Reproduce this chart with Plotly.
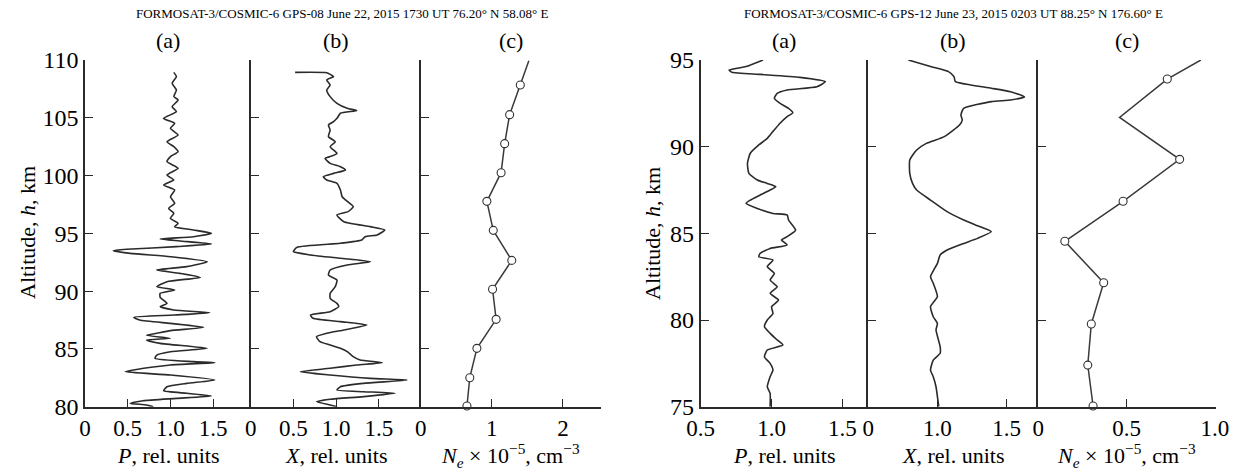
import plotly.graph_objects as go

W, H = 1233, 476

# ---------------- Event 1: GPS-08, June 22, 2015 ----------------
p1_alt = [108.93, 108.56, 107.98, 107.40, 106.83, 106.54, 105.96, 105.53, 104.95, 104.52,
          104.09, 103.51, 102.92, 102.50, 102.07, 101.64, 101.20, 100.63, 100.05, 99.62,
          99.18, 98.75, 98.17, 97.60, 97.16, 96.73, 96.30, 95.87, 95.58, 95.29,
          95.00, 94.71, 94.51, 94.34, 94.08, 93.85, 93.62, 93.50, 93.27, 92.98,
          92.55, 92.12, 91.83, 91.54, 91.19, 90.82, 90.39, 90.10, 89.81, 89.46,
          88.94, 88.66, 88.37, 88.14, 87.93, 87.73, 87.50, 87.21, 86.87, 86.58,
          86.35, 86.18, 85.92, 85.77, 85.48, 85.05, 84.76, 84.47, 84.18, 83.90,
          83.81, 83.61, 83.18, 83.03, 82.74, 82.31, 82.02, 81.73, 81.39, 81.16,
          80.93, 80.72, 80.52, 80.29, 80.15, 80.00]
p1_val = [1.04, 1.07, 1.02, 1.07, 1.04, 1.09, 1.02, 1.07, 0.92, 1.05,
          1.00, 1.09, 0.96, 1.04, 1.09, 1.00, 0.96, 1.09, 0.96, 1.04,
          0.92, 1.05, 1.00, 1.05, 0.98, 1.04, 1.00, 1.09, 1.05, 1.27,
          1.48, 1.27, 0.88, 1.11, 1.48, 1.07, 0.49, 0.33, 0.53, 1.00,
          1.43, 1.19, 0.84, 1.11, 1.35, 0.96, 0.84, 1.05, 0.88, 0.88,
          0.96, 0.88, 1.04, 1.46, 1.04, 0.57, 0.64, 1.00, 1.39, 1.00,
          0.84, 0.72, 1.00, 0.72, 0.88, 1.43, 1.00, 0.84, 0.82, 1.27,
          1.52, 1.00, 0.57, 0.47, 1.00, 1.52, 1.19, 0.96, 0.92, 1.19,
          1.48, 1.07, 0.68, 0.53, 0.72, 0.80]

x1_alt = [108.93, 108.90, 108.76, 108.56, 108.27, 107.84, 107.40, 106.83, 106.25, 105.82,
          105.62, 105.39, 104.95, 104.66, 104.38, 103.94, 103.37, 102.92, 102.50, 101.92,
          101.64, 101.49, 101.06, 100.77, 100.48, 100.19, 99.90, 99.62, 99.33, 98.75,
          98.17, 97.89, 97.31, 96.88, 96.59, 96.01, 95.58, 95.29, 94.86, 94.71,
          94.42, 94.14, 93.79, 93.42, 93.13, 92.84, 92.55, 92.26, 91.83, 91.40,
          90.96, 90.39, 89.81, 89.38, 88.94, 88.66, 88.22, 87.93, 87.65, 87.36,
          87.07, 86.64, 86.35, 86.06, 85.63, 85.34, 85.05, 84.76, 84.33, 84.04,
          83.81, 83.61, 83.32, 83.03, 82.74, 82.45, 82.31, 82.02, 81.73, 81.44,
          81.30, 81.16, 80.87, 80.64, 80.44, 80.15, 80.00]
x1_val = [0.52, 0.89, 0.93, 0.97, 0.89, 0.93, 0.89, 0.93, 1.01, 1.13,
          1.24, 1.05, 1.01, 0.97, 0.91, 0.93, 0.91, 0.99, 0.93, 1.01,
          0.93, 0.87, 0.93, 1.05, 1.11, 0.97, 0.85, 0.89, 1.01, 1.05,
          1.07, 1.11, 1.20, 1.14, 1.01, 1.09, 1.40, 1.57, 1.48, 1.34,
          1.30, 1.05, 0.54, 0.50, 0.70, 1.05, 1.40, 1.13, 0.93, 0.91,
          1.01, 0.99, 0.93, 0.93, 1.01, 1.03, 0.93, 0.70, 0.73, 1.05,
          1.36, 1.09, 0.89, 0.77, 0.81, 0.93, 1.05, 1.13, 1.20, 1.28,
          1.54, 1.24, 0.93, 0.58, 0.93, 1.40, 1.83, 1.32, 1.05, 1.01,
          1.32, 1.69, 1.32, 0.93, 0.77, 0.93, 1.01]

ne1_line_alt = [109.94, 107.84, 105.27, 102.76, 100.25, 97.77, 95.26, 92.66, 90.16, 87.56, 85.05, 82.51, 80.06]
ne1_line_val = [1.52, 1.40, 1.25, 1.18, 1.13, 0.93, 1.02, 1.28, 1.01, 1.06, 0.79, 0.69, 0.65]
ne1_pt_alt = [107.84, 105.27, 102.76, 100.25, 97.77, 95.26, 92.66, 90.16, 87.56, 85.05, 82.51, 80.06]
ne1_pt_val = [1.40, 1.25, 1.18, 1.13, 0.93, 1.02, 1.28, 1.01, 1.06, 0.79, 0.69, 0.65]

# ---------------- Event 2: GPS-12, June 23, 2015 ----------------
p2_alt = [95.00, 94.62, 94.42, 94.29, 94.17, 94.00, 93.75, 93.46, 93.27, 93.08,
          92.79, 92.50, 92.21, 91.96, 91.73, 91.35, 90.87, 90.48, 90.10, 89.62,
          89.04, 88.46, 88.08, 87.88, 87.69, 87.50, 87.21, 86.92, 86.73, 86.44,
          86.15, 86.06, 85.77, 85.19, 84.81, 84.62, 84.33, 84.13, 83.85, 83.65,
          83.46, 83.08, 82.69, 82.31, 81.92, 81.54, 81.15, 80.77, 80.38, 80.00,
          79.62, 79.23, 78.85, 78.56, 78.27, 77.88, 77.50, 77.12, 76.73, 76.15,
          75.77, 75.00]
p2_val = [0.94, 0.82, 0.70, 0.72, 0.92, 1.20, 1.38, 1.32, 1.11, 1.04,
          1.02, 1.06, 1.12, 1.15, 1.11, 1.06, 1.01, 0.97, 0.91, 0.85,
          0.83, 0.84, 0.90, 0.97, 1.03, 0.99, 0.92, 0.85, 0.82, 0.90,
          1.01, 1.11, 1.12, 1.17, 1.11, 1.07, 1.11, 0.99, 0.92, 0.91,
          1.01, 0.97, 1.02, 0.99, 1.04, 0.99, 1.05, 1.00, 1.01, 0.97,
          0.95, 0.99, 1.04, 1.08, 0.97, 0.95, 0.99, 1.01, 0.99, 0.97,
          0.99, 0.99]

x2_alt = [95.00, 94.62, 94.33, 94.04, 93.75, 93.56, 93.37, 93.17, 92.87, 92.69,
          92.60, 92.21, 91.83, 91.54, 91.25, 90.58, 90.19, 89.81, 89.23, 88.46,
          87.88, 87.50, 86.92, 86.25, 85.77, 85.38, 85.10, 84.71, 84.42, 84.04,
          83.75, 83.27, 82.50, 82.12, 81.35, 80.77, 80.19, 79.81, 79.42, 78.46,
          78.08, 77.69, 77.12, 76.73, 76.15, 75.58, 75.00]
x2_val = [0.79, 0.95, 1.08, 1.12, 1.13, 1.24, 1.39, 1.53, 1.63, 1.53,
          1.39, 1.19, 1.17, 1.18, 1.16, 1.05, 0.92, 0.85, 0.80, 0.80,
          0.82, 0.85, 0.95, 1.07, 1.19, 1.31, 1.39, 1.29, 1.19, 1.07,
          1.02, 1.00, 0.95, 0.97, 1.00, 0.95, 0.97, 1.00, 0.99, 1.02,
          1.02, 0.97, 0.95, 0.97, 0.99, 1.00, 1.01]

ne2_line_alt = [95.00, 93.90, 91.69, 89.27, 86.85, 84.54, 82.15, 79.77, 77.40, 75.04]
ne2_line_val = [0.92, 0.73, 0.46, 0.80, 0.48, 0.15, 0.37, 0.30, 0.28, 0.31]
ne2_pt_alt = [93.90, 89.27, 86.85, 84.54, 82.15, 79.77, 77.40, 75.04]
ne2_pt_val = [0.73, 0.80, 0.48, 0.15, 0.37, 0.30, 0.28, 0.31]

titles = ["FORMOSAT-3/COSMIC-6 GPS-08 June 22, 2015 1730 UT 76.20° N 58.08° E",
          "FORMOSAT-3/COSMIC-6 GPS-12 June 23, 2015 0203 UT 88.25° N 176.60° E"]
panel_letters = ["(a)", "(b)", "(c)"]
xtitles = ["<i>P</i>, rel. units", "<i>X</i>, rel. units",
           "<i>N<sub>e</sub></i> × 10<sup>−5</sup>, cm<sup>−3</sup>"]
ytitle = "Altitude, <i>h</i>, km"

# ---------------- layout geometry (pixels) ----------------
FONT = "Liberation Serif, Tinos, Times New Roman, serif"
INK = "#2b2b2b"
y_top, y_bot = 60, 406.7
panels = [
    (85, 250.7, [0, 1.94], [0, 0.5, 1.0, 1.5], ["0", "0.5", "1.0", "1.5"], [80, 110], list(range(80, 111, 5))),
    (250.7, 420.7, [0, 1.99], [0, 0.5, 1.0, 1.5], ["0", "0.5", "1.0", "1.5"], [80, 110], list(range(80, 111, 5))),
    (420.7, 600.7, [0, 2.53], [0, 1, 2], ["0", "1", "2"], [80, 110], list(range(80, 111, 5))),
    (700.7, 868.3, [0.5, 1.683], [0.5, 1.0, 1.5], ["0.5", "1.0", "1.5"], [75, 95], list(range(75, 96, 5))),
    (868.3, 1038.3, [0.5, 1.73], [0.5, 1.0, 1.5], ["0", "1.0", "1.5"], [75, 95], list(range(75, 96, 5))),
    (1038.3, 1215.5, [0, 1.003], [0, 0.5, 1.0], ["0", "0.5", "1.0"], [75, 95], list(range(75, 96, 5))),
]

def fx(px):
    return px / W

def fy(py):
    return 1 - py / H

fig = go.Figure()

line_style = dict(color=INK, width=1.6, shape="spline", smoothing=0.5)
ne_line = dict(color="#3a3a3a", width=1.5)
marker_style = dict(symbol="circle", size=8, color="white", line=dict(color="#333333", width=1.1))

series = [
    (p1_val, p1_alt), (x1_val, x1_alt), None,
    (p2_val, p2_alt), (x2_val, x2_alt), None,
]
for i, s in enumerate(series):
    ax = "" if i == 0 else str(i + 1)
    if s is not None:
        fig.add_trace(go.Scatter(x=s[0], y=s[1], mode="lines", line=line_style,
                                 xaxis="x" + ax, yaxis="y" + ax, showlegend=False,
                                 hoverinfo="skip", cliponaxis=True))

fig.add_trace(go.Scatter(x=ne1_line_val, y=ne1_line_alt, mode="lines", line=ne_line,
                         xaxis="x3", yaxis="y3", showlegend=False, cliponaxis=False))
fig.add_trace(go.Scatter(x=ne1_pt_val, y=ne1_pt_alt, mode="markers", marker=marker_style,
                         xaxis="x3", yaxis="y3", showlegend=False, cliponaxis=False))
fig.add_trace(go.Scatter(x=ne2_line_val, y=ne2_line_alt, mode="lines", line=ne_line,
                         xaxis="x6", yaxis="y6", showlegend=False, cliponaxis=False))
fig.add_trace(go.Scatter(x=ne2_pt_val, y=ne2_pt_alt, mode="markers", marker=marker_style,
                         xaxis="x6", yaxis="y6", showlegend=False, cliponaxis=False))

layout = dict(template="none", width=W, height=H, margin=dict(l=0, r=0, t=0, b=0, pad=0),
              paper_bgcolor="white", plot_bgcolor="rgba(0,0,0,0)",
              font=dict(family=FONT, color="black"), showlegend=False)

for i, (xl, xr, xr_rng, tv, tt, yr, yt) in enumerate(panels):
    n = "" if i == 0 else str(i + 1)
    layout["xaxis" + n] = dict(domain=[fx(xl), fx(xr)], range=xr_rng, anchor="y" + n,
                               tickvals=tv, ticktext=tt, ticks="inside", ticklen=8,
                               tickwidth=1.3, tickcolor=INK, showline=True, linecolor=INK,
                               linewidth=1.6, showgrid=False, zeroline=False, automargin=False,
                               tickfont=dict(family=FONT, size=23, color="black"),
                               fixedrange=True)
    layout["yaxis" + n] = dict(domain=[fy(y_bot), fy(y_top)], range=yr, anchor="x" + n,
                               tickvals=yt, ticks="inside", ticklen=8, tickwidth=1.3,
                               tickcolor=INK, showline=True, linecolor=INK, linewidth=1.6,
                               showgrid=False, zeroline=False, automargin=False,
                               showticklabels=(i % 3 == 0),
                               tickfont=dict(family=FONT, size=24, color="black"),
                               fixedrange=True)

annotations = []
title_x = [342, 953]
for k in range(2):
    annotations.append(dict(text=titles[k], x=fx(title_x[k]), y=fy(13), xref="paper", yref="paper",
                            showarrow=False, xanchor="center", yanchor="middle",
                            font=dict(family=FONT, size=13, color="black")))
    ytx = [27, 652][k]
    annotations.append(dict(text=ytitle, x=fx(ytx), y=fy(233), xref="paper", yref="paper",
                            showarrow=False, textangle=-90, xanchor="center", yanchor="middle",
                            font=dict(family=FONT, size=22, color="black")))
    for j in range(3):
        xl, xr = panels[3 * k + j][0], panels[3 * k + j][1]
        cx = (xl + xr) / 2
        annotations.append(dict(text=panel_letters[j], x=fx(cx), y=fy(40), xref="paper", yref="paper",
                                showarrow=False, xanchor="center", yanchor="middle",
                                font=dict(family=FONT, size=22, color="black")))
        annotations.append(dict(text=xtitles[j], x=fx(cx), y=fy(455), xref="paper", yref="paper",
                                showarrow=False, xanchor="center", yanchor="middle",
                                font=dict(family=FONT, size=22, color="black")))
layout["annotations"] = annotations

fig.update_layout(**layout)
fig.write_html("out.html", config={"displayModeBar": False},
               post_script="document.body.style.margin='0';document.body.style.padding='0';")
